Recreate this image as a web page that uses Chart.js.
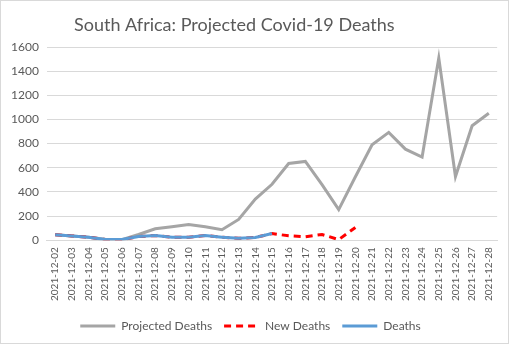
<!DOCTYPE html>
<html>
<head>
<meta charset="utf-8">
<script src="https://cdn.jsdelivr.net/npm/chart.js@4"></script>
<style>
  html, body { margin: 0; padding: 0; background: #fff; }
  #wrap { position: relative; width: 507px; height: 342px; border: 1px solid #d9d9d9; }
  canvas { display: block; }
</style>
</head>
<body>
<div id="wrap"><canvas id="c" width="507" height="342"></canvas></div>
<script>
// Dates on the category axis
const dates = [
  '2021-12-02','2021-12-03','2021-12-04','2021-12-05','2021-12-06','2021-12-07',
  '2021-12-08','2021-12-09','2021-12-10','2021-12-11','2021-12-12','2021-12-13',
  '2021-12-14','2021-12-15','2021-12-16','2021-12-17','2021-12-18','2021-12-19',
  '2021-12-20','2021-12-21','2021-12-22','2021-12-23','2021-12-24','2021-12-25',
  '2021-12-26','2021-12-27','2021-12-28'
];

// Projected deaths over the full period
const projectedDeaths = [
  45, 35, 25, 8, 5, 47, 94, 111, 130, 111, 86, 172, 340, 463,
  635, 652, 460, 253, 525, 790, 893, 754, 688, 1508, 527, 948, 1051
];

// Reported new deaths (through 12-20)
const newDeaths = [
  45, 35, 25, 5, 5, 30, 38, 25, 25, 38, 25, 15, 22, 55,
  36, 28, 47, 5, 105, null, null, null, null, null, null, null, null
];

// Recorded deaths (through 12-15)
const deaths = [
  45, 35, 25, 5, 5, 30, 38, 25, 25, 38, 25, 15, 22, 55,
  null, null, null, null, null, null, null, null, null, null, null, null, null
];

const yTicks = [0, 200, 400, 600, 800, 1000, 1200, 1400, 1600];

const titleText = 'South Africa: Projected Covid-19 Deaths';
const textColor = '#595959';
const fontFamily = 'Lato, "Open Sans", sans-serif';

// Title drawn left of centre, as in the original workbook layout
const titlePlugin = {
  id: 'leftTitle',
  afterDraw(chart) {
    const ctx = chart.ctx;
    ctx.save();
    ctx.fillStyle = textColor;
    ctx.font = '18px ' + fontFamily;
    ctx.textBaseline = 'alphabetic';
    ctx.textAlign = 'left';
    ctx.fillText(titleText, 73, 30);
    ctx.restore();
  }
};

new Chart(document.getElementById('c'), {
  type: 'line',
  data: {
    labels: dates,
    datasets: [
      {
        label: 'Projected Deaths',
        data: projectedDeaths,
        borderColor: '#a5a5a5',
        backgroundColor: '#a5a5a5',
        borderWidth: 3,
        pointRadius: 0,
        pointStyle: 'line',
        tension: 0,
        order: 3
      },
      {
        label: 'New Deaths',
        data: newDeaths,
        borderColor: '#ff0000',
        backgroundColor: '#ff0000',
        borderWidth: 3,
        borderDash: [7, 5],
        pointRadius: 0,
        pointStyle: 'line',
        tension: 0,
        order: 2
      },
      {
        label: 'Deaths',
        data: deaths,
        borderColor: '#5b9bd5',
        backgroundColor: '#5b9bd5',
        borderWidth: 3,
        pointRadius: 0,
        pointStyle: 'line',
        tension: 0,
        order: 1
      }
    ]
  },
  options: {
    responsive: false,
    animation: false,
    layout: { padding: { top: 46, right: 10, left: 2, bottom: 1 } },
    plugins: {
      title: { display: false },
      tooltip: { enabled: false },
      legend: {
        position: 'bottom',
        labels: {
          usePointStyle: true,
          pointStyleWidth: 35,
          color: textColor,
          font: { size: 12, family: fontFamily },
          padding: 12,
          boxHeight: 3,
          sort: (a, b) => a.datasetIndex - b.datasetIndex,
          generateLabels(chart) {
            const items = Chart.defaults.plugins.legend.labels.generateLabels(chart);
            items.forEach(it => {
              const ds = chart.data.datasets[it.datasetIndex];
              it.lineDash = ds.borderDash || [];
              it.lineWidth = ds.borderWidth;
              it.strokeStyle = ds.borderColor;
            });
            return items;
          }
        }
      }
    },
    scales: {
      x: {
        offset: true,
        grid: { display: false, drawTicks: false },
        border: { color: '#d9d9d9' },
        ticks: {
          color: textColor,
          font: { size: 10, family: fontFamily },
          maxRotation: 90,
          minRotation: 90,
          autoSkip: false,
          padding: 7
        }
      },
      y: {
        min: 0,
        max: 1600,
        afterBuildTicks(axis) { axis.ticks = yTicks.map(v => ({ value: v })); },
        grid: { color: '#d9d9d9', drawTicks: false },
        border: { display: false },
        ticks: {
          color: textColor,
          font: { size: 12, family: fontFamily },
          padding: 8,
          callback: v => String(v)
        }
      }
    }
  },
  plugins: [titlePlugin]
});
</script>
</body>
</html>
